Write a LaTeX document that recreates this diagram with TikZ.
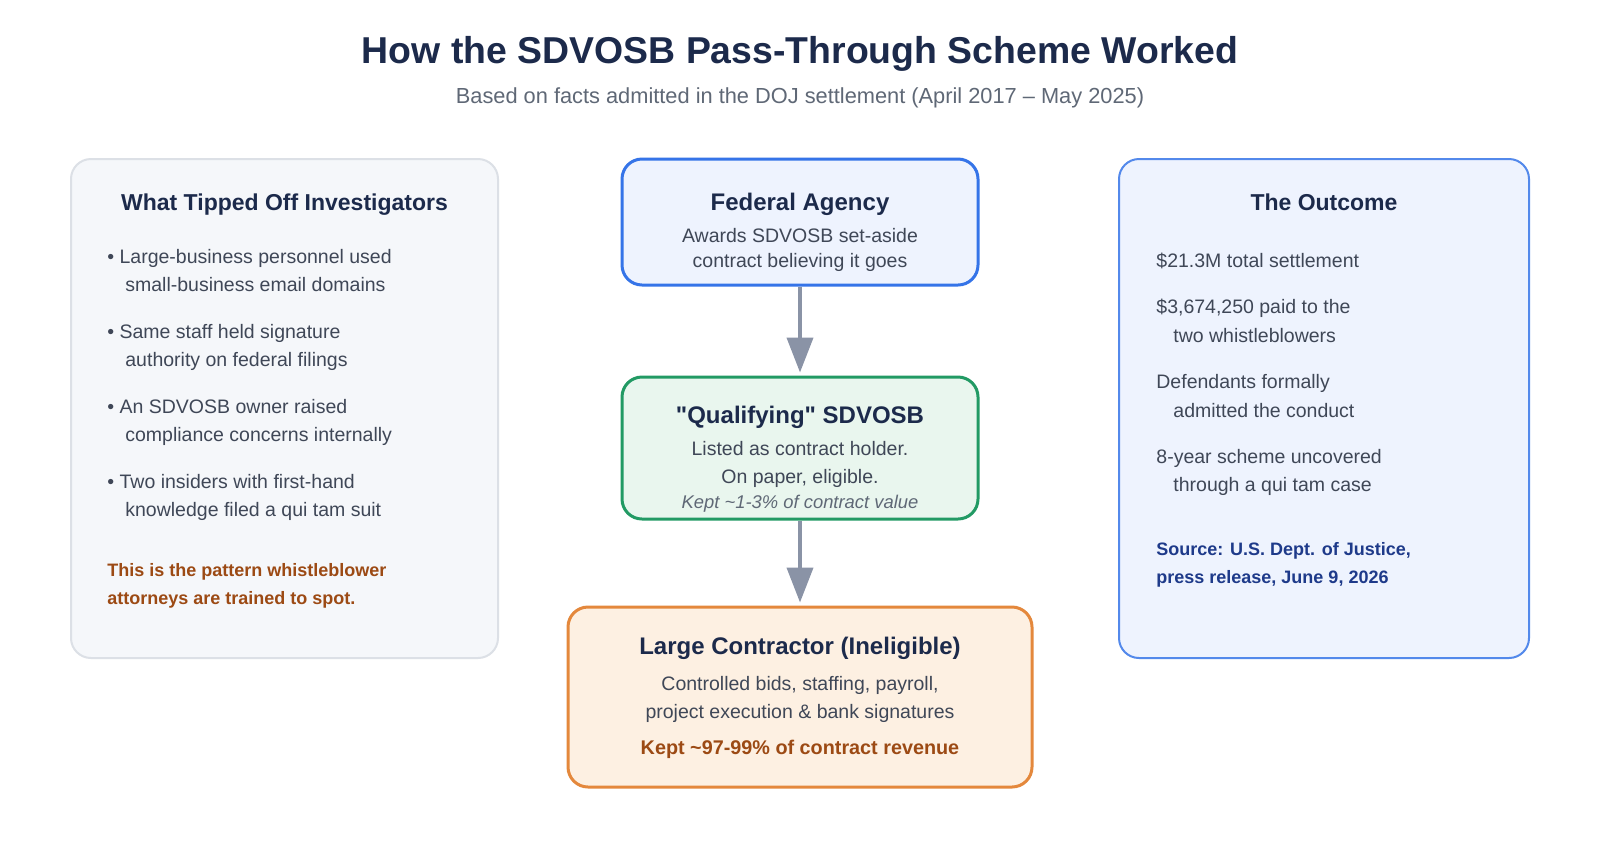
\documentclass[tikz,border=0pt]{standalone}
\usepackage{fontspec}
\setmainfont{Liberation Sans}[Ligatures=TeXOff]
\usetikzlibrary{arrows.meta}
\definecolor{navy}{HTML}{1C2A4B}
\definecolor{bodytxt}{HTML}{3F4757}
\definecolor{subgray}{HTML}{5F6876}
\definecolor{rust}{HTML}{9C4A14}
\definecolor{srcblue}{HTML}{1E3A8A}
\definecolor{sidefill}{HTML}{F5F7FA}
\definecolor{sidedraw}{HTML}{DCE0E6}
\definecolor{bluefill}{HTML}{EEF3FE}
\definecolor{bluedraw}{HTML}{3574E8}
\definecolor{greenfill}{HTML}{E9F6EE}
\definecolor{greendraw}{HTML}{229A64}
\definecolor{orangefill}{HTML}{FDF0E2}
\definecolor{orangedraw}{HTML}{E4883C}
\definecolor{arrowgray}{HTML}{8A93A6}
\tikzset{
  panel/.style={draw, rounded corners=10pt, inner sep=0pt},
  boxtitle/.style={anchor=base, text=navy, font=\bfseries\fontsize{12pt}{14pt}\selectfont},
  sidetitle/.style={boxtitle, font=\bfseries\fontsize{11.5pt}{14pt}\selectfont},
  line/.style={anchor=base west, inner sep=0pt, text=bodytxt, font=\fontsize{9.75pt}{12pt}\selectfont},
  cline/.style={line, anchor=base},
  flow/.style={draw=arrowgray, line width=2pt, -{Triangle[length=17.5pt, width=13pt]}, shorten >=1.5pt}
}
\begin{document}
\begin{tikzpicture}[x=0.5pt, y=-0.5pt]
        \useasboundingbox [fill=white] (0,0) rectangle (1600,853);
        % heading
        \node (title) [anchor=base, text=navy, font=\bfseries\fontsize{18.7pt}{21pt}\selectfont] at (800,63) {How the SDVOSB Pass-Through Scheme Worked};
        \node (subtitle) [anchor=base, text=subgray, font=\fontsize{10.9pt}{13pt}\selectfont] at (800,103) {Based on facts admitted in the DOJ settlement (April 2017 \textendash\ May 2025)};
        % left panel
        \node (tips) [panel, fill=sidefill, draw=sidedraw, line width=1pt, minimum width=213.5pt, minimum height=249.5pt] at (284.5,408.5) {};
        \node (tipstitle) [sidetitle] at (284.5,210) {What Tipped Off Investigators};
        \node (tipa) [line] at (107,263) {\textbullet\ Large-business personnel used};
        \node (tipb) [line] at (125,291) {small-business email domains};
        \node (tipc) [line] at (107,338) {\textbullet\ Same staff held signature};
        \node (tipd) [line] at (125,366) {authority on federal filings};
        \node (tipe) [line] at (107,413) {\textbullet\ An SDVOSB owner raised};
        \node (tipf) [line] at (125,441) {compliance concerns internally};
        \node (tipg) [line] at (107,488) {\textbullet\ Two insiders with first-hand};
        \node (tiph) [line] at (125,516) {knowledge filed a qui tam suit};
        \node (notea) [line, text=rust, font=\bfseries\fontsize{9pt}{11pt}\selectfont] at (107,576) {This is the pattern whistleblower};
        \node (noteb) [line, text=rust, font=\bfseries\fontsize{9pt}{11pt}\selectfont] at (107,604) {attorneys are trained to spot.};
        % centre column
        \node (agency) [panel, fill=bluefill, draw=bluedraw, line width=1.5pt, minimum width=178pt, minimum height=63pt] at (800,222) {};
        \node (agencytitle) [boxtitle] at (800,210) {Federal Agency};
        \node (agencya) [cline] at (800,242) {Awards SDVOSB set-aside};
        \node (agencyb) [cline] at (800,267) {contract believing it goes};
        \node (sdvosb) [panel, fill=greenfill, draw=greendraw, line width=1.5pt, minimum width=178pt, minimum height=71pt] at (800,448) {};
        \node (sdvosbtitle) [boxtitle] at (800,423) {"Qualifying" SDVOSB};
        \node (sdvosba) [cline] at (800,455) {Listed as contract holder.};
        \node (sdvosbb) [cline] at (800,483) {On paper, eligible.};
        \node (sdvosbc) [cline, text=subgray, font=\itshape\fontsize{9.2pt}{11pt}\selectfont] at (800,508) {Kept \textasciitilde1-3\% of contract value};
        \node (large) [panel, fill=orangefill, draw=orangedraw, line width=1.5pt, minimum width=232pt, minimum height=90pt] at (800,697) {};
        \node (largetitle) [boxtitle] at (800,654) {Large Contractor (Ineligible)};
        \node (largea) [cline] at (800,690) {Controlled bids, staffing, payroll,};
        \node (largeb) [cline] at (800,718) {project execution \& bank signatures};
        \node (largec) [cline, text=rust, font=\bfseries\fontsize{9.9pt}{12pt}\selectfont] at (800,754) {Kept \textasciitilde97-99\% of contract revenue};
        \draw [flow] (agency) -- (sdvosb);
        \draw [flow] (sdvosb) -- (large);
        % right panel
        \node (outcome) [panel, fill=bluefill, draw=bluedraw!85, line width=1pt, minimum width=205pt, minimum height=249.5pt] at (1324,408.5) {};
        \node (outcometitle) [sidetitle] at (1324,210) {The Outcome};
        \node (outa) [line] at (1156,267) {\$21.3M total settlement};
        \node (outb) [line] at (1156,313) {\$3,674,250 paid to the};
        \node (outc) [line] at (1173,342) {two whistleblowers};
        \node (outd) [line] at (1156,388) {Defendants formally};
        \node (oute) [line] at (1173,417) {admitted the conduct};
        \node (outf) [line] at (1156,463) {8-year scheme uncovered};
        \node (outg) [line] at (1173,491) {through a qui tam case};
        \node (srca) [line, text=srcblue, font=\bfseries\fontsize{9pt}{11pt}\selectfont] at (1156,555) {Source: U.S. Dept. of Justice,};
        \node (srcb) [line, text=srcblue, font=\bfseries\fontsize{9pt}{11pt}\selectfont] at (1156,583) {press release, June 9, 2026};
    \end{tikzpicture}
\end{document}
